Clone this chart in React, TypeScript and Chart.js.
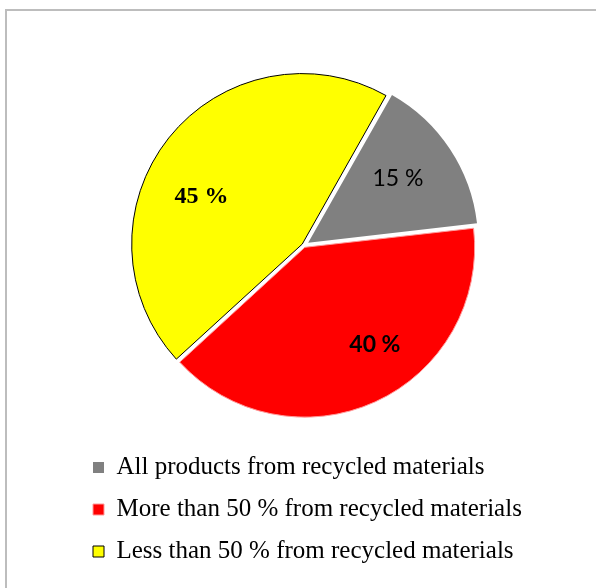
import React, { useEffect, useRef } from "react";
import { Chart, registerables } from "chart.js";

Chart.register(...registerables);

const categories = [
  "All products from recycled materials",
  "More than 50 % from recycled materials",
  "Less than 50 % from recycled materials",
];
const shares = [15, 40, 45];

const sliceColors = ["#808080", "#ff0000", "#ffff00"];
const sliceBorderColors = ["#808080", "#ff9a9a", "#000000"];
const sliceBorderWidths = [0, 1, 1];
const sliceOffsets = [20, 8, 9];

// label placement (fraction of radius, angular nudge in degrees) and fonts
const labelDist = [0.683, 0.722, 0.672];
const labelShift = [-2, -11, -13];
const labelFonts = [
  'normal 23px Lato, "Open Sans", sans-serif',
  'bold 23px Lato, "Open Sans", sans-serif',
  'bold 24px "Liberation Serif", "Times New Roman", serif',
];

const labelPlugin = {
  id: "sliceLabels",
  afterDatasetsDraw(chart: any) {
    const ctx = chart.ctx;
    const meta = chart.getDatasetMeta(0);
    meta.data.forEach((arc: any, i: number) => {
      const { x, y, startAngle, endAngle, outerRadius } = arc.getProps(
        ["x", "y", "startAngle", "endAngle", "outerRadius"],
        true
      );
      const mid = (startAngle + endAngle) / 2 + (labelShift[i] * Math.PI) / 180;
      const d = outerRadius * labelDist[i];
      ctx.save();
      ctx.font = labelFonts[i];
      ctx.fillStyle = "#000";
      ctx.textAlign = "center";
      ctx.textBaseline = "middle";
      ctx.fillText(`${shares[i]} %`, x + Math.cos(mid) * d, y + Math.sin(mid) * d);
      ctx.restore();
    });
  },
};

export default function App() {
  const ref = useRef<HTMLCanvasElement | null>(null);

  useEffect(() => {
    if (!ref.current) return;
    const chart = new Chart(ref.current, {
      type: "pie",
      data: {
        labels: categories,
        datasets: [
          {
            data: shares,
            backgroundColor: sliceColors,
            borderColor: sliceBorderColors,
            borderWidth: sliceBorderWidths,
            offset: sliceOffsets,
            radius: 169,
            rotation: 29.5,
          } as any,
        ],
      },
      options: {
        responsive: false,
        animation: false,
        rotation: 29.5,
        layout: { padding: { left: 76, right: 64, top: 53, bottom: 14 } },
        plugins: {
          legend: {
            position: "bottom",
            align: "start",
            labels: {
              boxWidth: 11,
              boxHeight: 11,
              padding: 17,
              color: "#000",
              font: { family: '"Liberation Serif", "Times New Roman", serif', size: 25 },
            },
          },
          tooltip: { enabled: false },
        },
      } as any,
      plugins: [labelPlugin],
    });
    return () => chart.destroy();
  }, []);

  return (
    <div style={{ position: "fixed", left: 0, top: 0, width: 596, height: 588, background: "#fff", overflow: "hidden" }}>
      <div
        style={{
          position: "absolute",
          left: 5,
          top: 9,
          width: 700,
          height: 700,
          borderTop: "2px solid #bdbdbd",
          borderLeft: "2px solid #bdbdbd",
        }}
      />
      <canvas ref={ref} width={596} height={588} style={{ position: "absolute", left: 0, top: 0 }} />
    </div>
  );
}
